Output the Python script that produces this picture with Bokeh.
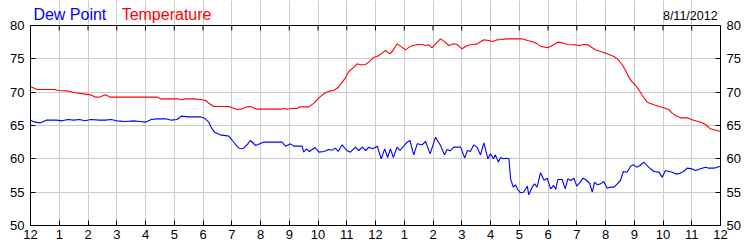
from bokeh.plotting import figure
from bokeh.models import Range1d, LinearAxis, FixedTicker, Label, Span
from bokeh.embed import file_html
from bokeh.resources import INLINE

# ---- data (hours since midnight, degrees F) ----
dew_hours = [0.00, 0.15, 0.35, 0.55, 0.9, 1.1, 1.3, 1.5, 1.7, 1.9, 2.1, 2.4, 2.6, 2.8, 3.0, 3.3, 3.6, 3.8,
             4.0, 4.2, 4.4, 4.7, 4.9, 5.1, 5.25, 5.5, 5.9, 6.05, 6.2, 6.3, 6.4, 6.6, 6.9, 7.05, 7.2, 7.3,
             7.42, 7.55, 7.65, 7.83, 8.0, 8.1, 8.75, 8.87, 9.04, 9.16, 9.45, 9.5, 9.6, 9.7, 9.9, 10.03,
             10.2, 10.38, 10.5, 10.6, 10.7, 10.84, 11.0, 11.13, 11.3, 11.42, 11.54, 11.66, 11.77, 11.9,
             12.06, 12.2, 12.32, 12.42, 12.52, 12.62, 12.75, 12.85, 13.1, 13.2, 13.33, 13.45, 13.62, 13.74,
             13.9, 14.09, 14.26, 14.4, 14.49, 14.6, 14.72, 14.96, 15.1, 15.2, 15.3, 15.42, 15.53, 15.65,
             15.77, 15.91, 16.0, 16.1, 16.17, 16.27, 16.35, 16.44, 16.56, 16.64, 16.7, 16.79, 16.87, 16.95,
             17.04, 17.15, 17.28, 17.33, 17.45, 17.53, 17.62, 17.74, 17.86, 17.97, 18.09, 18.2, 18.27,
             18.34, 18.49, 18.6, 18.69, 18.8, 18.9, 19.0, 19.1, 19.22, 19.35, 19.45, 19.54, 19.62, 19.72,
             19.83, 19.94, 20.06, 20.17, 20.3, 20.41, 20.52, 20.62, 20.75, 20.87, 20.97, 21.08, 21.2,
             21.33, 21.5, 21.68, 21.86, 21.97, 22.09, 22.2, 22.32, 22.43, 22.55, 22.72, 22.84, 23.01,
             23.13, 23.3, 23.48, 23.6, 23.77, 23.88, 24.0]
dew_point = [65.8, 65.5, 65.4, 65.8, 65.8, 65.7, 65.9, 65.8, 65.9, 65.7, 65.9, 65.8, 65.8, 65.9, 65.7, 65.6, 65.7, 65.6,
             65.5, 65.9, 66.0, 66.0, 65.8, 65.9, 66.4, 66.3, 66.3, 66.1, 65.5, 64.6, 64.0, 63.6, 63.4, 62.6, 61.8, 61.5,
             61.6, 62.2, 62.75, 62.0, 62.3, 62.5, 62.5, 61.9, 62.25, 61.9, 61.9, 61.0, 61.5, 61.1, 61.7, 61.0,
             61.1, 61.4, 61.3, 61.6, 61.1, 62.1, 61.25, 61.0, 61.75, 61.25, 61.75, 61.25, 61.75, 61.5,
             61.9, 60.0, 61.5, 60.2, 61.5, 60.2, 61.75, 61.25, 62.5, 62.75, 60.6, 62.25, 62.1, 62.6,
             60.75, 63.25, 62.0, 60.6, 61.4, 61.2, 61.75, 61.75, 60.15, 61.25, 61.1, 62.1, 61.75, 60.6,
             62.4, 60.0, 60.75, 60.0, 60.6, 59.5, 60.2, 60.0, 60.1, 60.0, 57.0, 55.75, 56.1, 55.4,
             54.9, 55.0, 55.9, 54.6, 55.75, 56.25, 55.75, 57.9, 56.8, 57.1, 55.5, 56.0, 55.4,
             56.9, 56.9, 55.5, 57.0, 56.75, 57.1, 55.9, 56.4, 57.1, 56.75, 56.3, 55.0, 56.5, 56.1,
             56.25, 56.6, 55.6, 55.75, 55.75, 56.25, 56.75, 58.1, 58.0, 58.9, 59.1, 58.75, 59.0,
             59.5, 58.75, 58.1, 58.0, 57.25, 58.25, 58.1, 58.0, 57.75, 57.75, 58.1, 58.6, 58.5,
             58.25, 58.5, 58.75, 58.6, 58.6, 58.75, 58.9]

temp_hours = [0.0, 0.23, 0.81, 0.99, 1.28, 1.5, 1.86, 2.09, 2.26, 2.43, 2.61, 2.78, 4.41, 4.52, 5.1, 5.28, 5.39,
              5.68, 5.91, 6.09, 6.2, 6.38, 6.9, 7.02, 7.19, 7.36, 7.54, 7.65, 7.88, 8.7, 8.81, 8.93, 9.04,
              9.28, 9.37, 9.68, 9.86, 10.03, 10.2, 10.38, 10.55, 10.69, 10.84, 10.96, 11.07, 11.25, 11.36,
              11.48, 11.65, 11.77, 11.94, 12.06, 12.23, 12.35, 12.5, 12.61, 12.75, 12.87, 13.04, 13.22,
              13.45, 13.62, 13.74, 13.85, 13.97, 14.09, 14.26, 14.38, 14.55, 14.72, 14.84, 15.01, 15.19,
              15.36, 15.54, 15.77, 15.94, 16.09, 16.23, 16.35, 16.58, 17.1, 17.28, 17.45, 17.62, 17.74,
              17.97, 18.09, 18.34, 18.49, 18.67, 18.96, 19.07, 19.25, 19.38, 19.54, 19.65, 19.83, 20.06,
              20.29, 20.41, 20.58, 20.7, 20.81, 20.93, 21.05, 21.16, 21.28, 21.45, 21.68, 21.86, 22.03,
              22.2, 22.32, 22.43, 22.61, 22.84, 23.01, 23.19, 23.36, 23.48, 23.65, 24.0]
temperature = [70.85, 70.4, 70.4, 70.25, 70.2, 69.95, 69.75, 69.6, 69.25, 69.3, 69.6, 69.25, 69.25, 69.0, 69.0, 68.85, 69.0,
               69.0, 68.9, 68.75, 68.35, 67.85, 67.85, 67.65, 67.4, 67.5, 67.8, 67.85, 67.45, 67.45, 67.55, 67.45, 67.55,
               67.55, 67.8, 67.8, 68.35, 69.15, 69.75, 70.15, 70.25, 70.65, 71.5, 72.15, 73.1, 73.75, 74.25,
               74.1, 74.15, 74.5, 75.25, 75.35, 75.85, 76.25, 75.75, 76.25, 77.25, 76.9, 76.35, 76.9,
               77.15, 77.15, 77.0, 77.1, 76.65, 77.25, 78.0, 77.65, 77.0, 77.25, 77.15, 76.5, 77.0,
               77.15, 77.25, 77.85, 77.75, 77.6, 77.85, 77.9, 78.0, 78.0, 77.75, 77.6, 77.25, 76.9,
               76.65, 76.85, 77.5, 77.4, 77.15, 77.1, 77.0, 77.15, 77.1, 76.65, 76.35, 76.1, 75.75,
               75.35, 75.0, 74.15, 73.25, 72.25, 71.5, 71.0, 70.35, 69.5, 68.5, 68.1, 67.85, 67.65,
               67.4, 66.85, 66.5, 66.15, 66.15, 65.85, 65.65, 65.4, 65.15, 64.5, 64.1]

hour_ticks = list(range(0, 25))
hour_labels = ["12", "1", "2", "3", "4", "5", "6", "7", "8", "9", "10", "11",
               "12", "1", "2", "3", "4", "5", "6", "7", "8", "9", "10", "11", "12"]
y_ticks = [50, 55, 60, 65, 70, 75, 80]
series_names = ["Dew Point", "Temperature"]
date_text = "8/11/2012"

FONT = "Liberation Sans"
Y_MIN, Y_MAX = 50, 80
PX_PER_DEG = 200 / (Y_MAX - Y_MIN)
HEADER_PX = 25
y_top = Y_MAX + HEADER_PX / PX_PER_DEG   # room above the chart box for the header texts
tick_len = 5 / PX_PER_DEG                # 5px inward ticks on the top edge

p = figure(width=750, height=250, output_backend="svg", toolbar_location=None,
           x_range=Range1d(0, 24), y_range=Range1d(Y_MIN, y_top),
           min_border_left=30, min_border_right=30, min_border_top=0, min_border_bottom=25,
           background_fill_color="white", border_fill_color="white")
p.outline_line_color = None

p.xgrid.ticker = FixedTicker(ticks=hour_ticks)
p.ygrid.ticker = FixedTicker(ticks=y_ticks)
p.xgrid.bounds = (Y_MIN, Y_MAX)
for g in (p.xgrid, p.ygrid):
    g.grid_line_color = "#cccccc"
    g.grid_line_width = 1

p.line(dew_hours, dew_point, line_color="#0000ff", line_width=1.1)
p.line(temp_hours, temperature, line_color="#ff0000", line_width=1.1)

# top edge of the chart box with inward tick marks at each hour
p.add_layout(Span(location=Y_MAX, dimension="width", line_color="black", line_width=1))
p.segment(x0=hour_ticks, y0=[Y_MAX] * len(hour_ticks), x1=hour_ticks,
          y1=[Y_MAX - tick_len] * len(hour_ticks), line_color="black", line_width=1)

p.add_layout(LinearAxis(), "right")

for ax in p.xaxis:
    ax.ticker = FixedTicker(ticks=hour_ticks)
    ax.major_label_overrides = {t: lab for t, lab in zip(hour_ticks, hour_labels)}
    ax.major_label_standoff = 4
for ax in p.yaxis:
    ax.ticker = FixedTicker(ticks=y_ticks)
    ax.major_label_standoff = 6
    ax.bounds = (Y_MIN, Y_MAX)

for ax in p.xaxis + p.yaxis:
    ax.axis_line_color = "black"
    ax.axis_line_width = 1
    ax.major_tick_line_color = "black"
    ax.major_tick_in = 5
    ax.major_tick_out = 0
    ax.minor_tick_line_color = None
    ax.major_label_text_font = FONT
    ax.major_label_text_font_size = "13px"
    ax.major_label_text_color = "black"

p.add_layout(Label(x=0.1, y=Y_MAX + 11.5 / PX_PER_DEG, text=series_names[0], text_color="#0000ff",
                   text_font=FONT, text_font_size="16px", text_baseline="alphabetic"))
p.add_layout(Label(x=3.17, y=Y_MAX + 11.5 / PX_PER_DEG, text=series_names[1], text_color="#ff0000",
                   text_font=FONT, text_font_size="16px", text_baseline="alphabetic"))
p.add_layout(Label(x=23.9, y=Y_MAX + 10 / PX_PER_DEG, text=date_text, text_color="black", text_align="right",
                   text_font=FONT, text_font_size="12.5px", text_baseline="alphabetic"))

open("out.html", "w").write(file_html(p, INLINE))
